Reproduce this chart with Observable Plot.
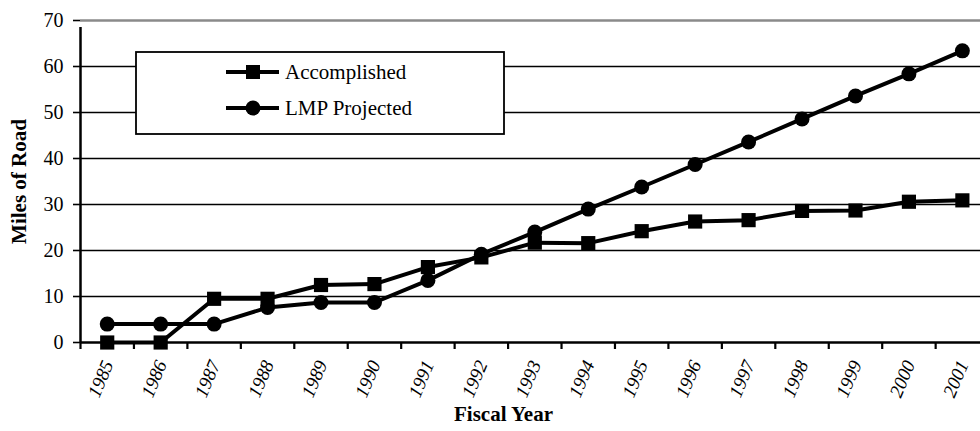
<!DOCTYPE html>
<html>
<head>
<meta charset="utf-8">
<script src="https://cdn.jsdelivr.net/npm/d3@7"></script>
<script src="https://cdn.jsdelivr.net/npm/@observablehq/plot@0.6"></script>
<style>
  html, body { margin: 0; padding: 0; background: #fff; }
  #chart { width: 980px; height: 431px; overflow: hidden; }
  #chart svg text { font-family: "Liberation Serif", "Times New Roman", serif; }
</style>
</head>
<body>
<div id="chart"></div>
<script>
// ---- data ----
const years = [1985,1986,1987,1988,1989,1990,1991,1992,1993,1994,1995,1996,1997,1998,1999,2000,2001];
const accomplished = [0,0,9.5,9.5,12.5,12.7,16.4,18.5,21.7,21.6,24.2,26.3,26.6,28.6,28.7,30.6,30.9];
const projected = [4,4,4,7.6,8.7,8.7,13.5,19.2,24.0,29.0,33.8,38.7,43.6,48.6,53.6,58.4,63.4];
const yTicks = [0,10,20,30,40,50,60,70];
const seriesNames = ["Accomplished","LMP Projected"];
const xTitle = "Fiscal Year";
const yTitle = "Miles of Road";

const accData = years.map((y, i) => ({year: y, value: accomplished[i]}));
const projData = years.map((y, i) => ({year: y, value: projected[i]}));
const boundaries = [years[0] - 0.5, ...years.map(y => y + 0.5)];
const serif = "Liberation Serif, Times New Roman, serif";

const plot = Plot.plot({
  width: 980,
  height: 431,
  marginLeft: 80,
  marginRight: 0,
  marginTop: 20,
  marginBottom: 89,
  style: {fontFamily: serif, fontSize: "20px", color: "#000", background: "#fff"},
  x: {type: "linear", domain: [years[0] - 0.5, years[years.length - 1] + 0.5], range: [80, 988.6], axis: null},
  y: {domain: [0, 70], axis: null},
  marks: [
    // gridlines
    Plot.ruleY(yTicks.filter(t => t > 0 && t < 70), {stroke: "#000", strokeWidth: 1.6}),
    Plot.ruleY([70], {stroke: "#8a8a8a", strokeWidth: 2.5}),
    // y axis
    Plot.axisY({ticks: yTicks, tickSize: 7, tickPadding: 10, stroke: "#000", strokeWidth: 1.6, fontSize: 20, label: null}),
    Plot.ruleX([years[0] - 0.5], {y1: 0, y2: 70, insetBottom: -7, stroke: "#000", strokeWidth: 2.5}),
    // x axis
    Plot.ruleY([0], {stroke: "#000", strokeWidth: 2.5}),
    Plot.ruleX(boundaries, {y1: 0, y2: 0, insetBottom: -7, stroke: "#000", strokeWidth: 2.2}),
    Plot.text(years, {x: d => d, frameAnchor: "bottom", rotate: -67, textAnchor: "end", lineAnchor: "middle",
      dx: 1, dy: 19, fontStyle: "italic", fontSize: 19, text: d => String(d)}),
    // titles
    Plot.text([yTitle], {frameAnchor: "left", textAnchor: "middle", dx: -61, rotate: -90, fontWeight: "bold", fontSize: 21}),
    Plot.text([xTitle], {frameAnchor: "bottom", textAnchor: "middle", dx: -27, dy: 78, fontWeight: "bold", fontSize: 21}),
    // series
    Plot.line(accData, {x: "year", y: "value", stroke: "#000", strokeWidth: 4}),
    Plot.line(projData, {x: "year", y: "value", stroke: "#000", strokeWidth: 4}),
    Plot.dot(accData, {x: "year", y: "value", symbol: "square", r: 8, fill: "#000", stroke: "none"}),
    Plot.dot(projData, {x: "year", y: "value", symbol: "circle", r: 7.5, fill: "#000", stroke: "none"})
  ]
});
document.getElementById("chart").appendChild(plot);

// ---- legend box ----
const svg = d3.select(plot);
const lg = svg.append("g").style("font-family", serif).style("font-size", "21px");
lg.append("rect").attr("x", 136).attr("y", 52).attr("width", 368).attr("height", 82)
  .attr("fill", "#fff").attr("stroke", "#000").attr("stroke-width", 1.8);
seriesNames.forEach((name, i) => {
  const cy = 72 + i * 36;
  lg.append("line").attr("x1", 226).attr("x2", 279).attr("y1", cy).attr("y2", cy)
    .attr("stroke", "#000").attr("stroke-width", 4);
  if (i === 0) {
    lg.append("rect").attr("x", 253 - 7).attr("y", cy - 7).attr("width", 14).attr("height", 14).attr("fill", "#000");
  } else {
    lg.append("circle").attr("cx", 253).attr("cy", cy).attr("r", 7.5).attr("fill", "#000");
  }
  lg.append("text").attr("x", 285).attr("y", cy).attr("dy", "0.32em").attr("fill", "#000")
    .style("text-anchor", "start").style("font-family", serif).style("font-size", "21px").text(name);
});
</script>
</body>
</html>
